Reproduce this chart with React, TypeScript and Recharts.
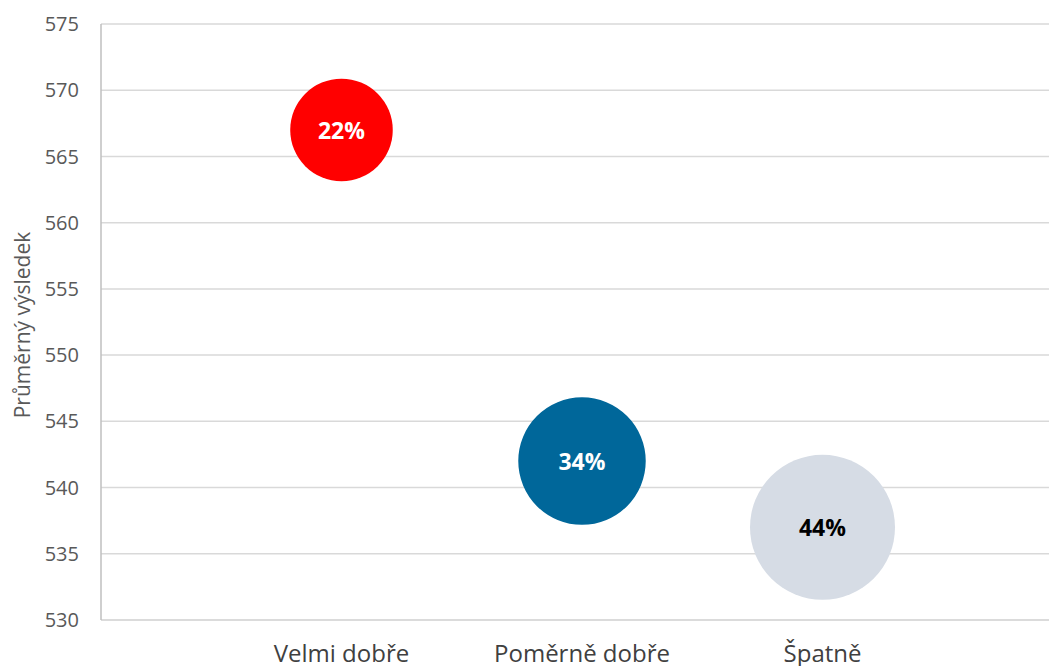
import React from 'react';
import {
  ScatterChart,
  Scatter,
  XAxis,
  YAxis,
  ZAxis,
  CartesianGrid,
  Cell,
  LabelList,
} from 'recharts';

const categories = ['Velmi dobře', 'Poměrně dobře', 'Špatně'];
const averageScores = [567, 542, 537];
const shares = [22, 34, 44];
const bubbleColors = ['#FF0000', '#00679A', '#D6DCE5'];
const labelColors = ['#FFFFFF', '#FFFFFF', '#000000'];
const yTicks = [530, 535, 540, 545, 550, 555, 560, 565, 570, 575];

const data = categories.map((name, i) => ({
  x: i + 1,
  name,
  score: averageScores[i],
  pct: shares[i],
}));

const FONT = '"Open Sans", sans-serif';

const BubbleLabel = (props: any) => {
  const { x, y, width, height, value, index } = props;
  return (
    <text
      x={x + width / 2}
      y={y + height / 2}
      textAnchor="middle"
      dominantBaseline="central"
      fill={labelColors[index]}
      fontFamily={FONT}
      fontWeight={700}
      fontSize={23}
    >
      {value}%
    </text>
  );
};

const YTitle = (props: any) => {
  const { viewBox } = props;
  const cx = 22;
  const cy = viewBox.y + viewBox.height / 2 + 3;
  return (
    <text
      x={cx}
      y={cy}
      transform={`rotate(-90, ${cx}, ${cy})`}
      textAnchor="middle"
      dominantBaseline="central"
      fill="#595959"
      fontSize={21}
      fontFamily={FONT}
    >
      Průměrný výsledek
    </text>
  );
};

const App: React.FC = () => {
  return (
    <div
      style={{
        position: 'absolute',
        left: 0,
        top: 0,
        width: 1049,
        height: 666,
        overflow: 'hidden',
        background: '#fff',
      }}
    >
      <ScatterChart
        width={1063}
        height={666}
        margin={{ top: 24, right: 0, left: 0, bottom: 0 }}
      >
        <CartesianGrid vertical={false} stroke="#D9D9D9" strokeWidth={1.5} />
        <XAxis
          type="number"
          dataKey="x"
          domain={[0, 4]}
          ticks={[1, 2, 3]}
          tickFormatter={(v: number) => categories[v - 1]}
          height={46}
          tickSize={0}
          tickMargin={25}
          axisLine={{ stroke: '#D9D9D9', strokeWidth: 1.5 }}
          tick={{ fill: '#404040', fontSize: 24, fontFamily: FONT }}
        />
        <YAxis
          type="number"
          dataKey="score"
          domain={[530, 575]}
          ticks={yTicks}
          width={101}
          tickSize={0}
          tickMargin={22}
          axisLine={{ stroke: '#BFBFBF', strokeWidth: 1.5 }}
          tick={{ fill: '#595959', fontSize: 20, fontFamily: FONT }}
          label={<YTitle />}
        />
        <ZAxis type="number" dataKey="pct" domain={[0, 44]} range={[0, 16513]} />
        <Scatter data={data} isAnimationActive={false}>
          {data.map((d, i) => (
            <Cell key={d.name} fill={bubbleColors[i]} />
          ))}
          <LabelList dataKey="pct" content={<BubbleLabel />} />
        </Scatter>
      </ScatterChart>
    </div>
  );
};

export default App;
